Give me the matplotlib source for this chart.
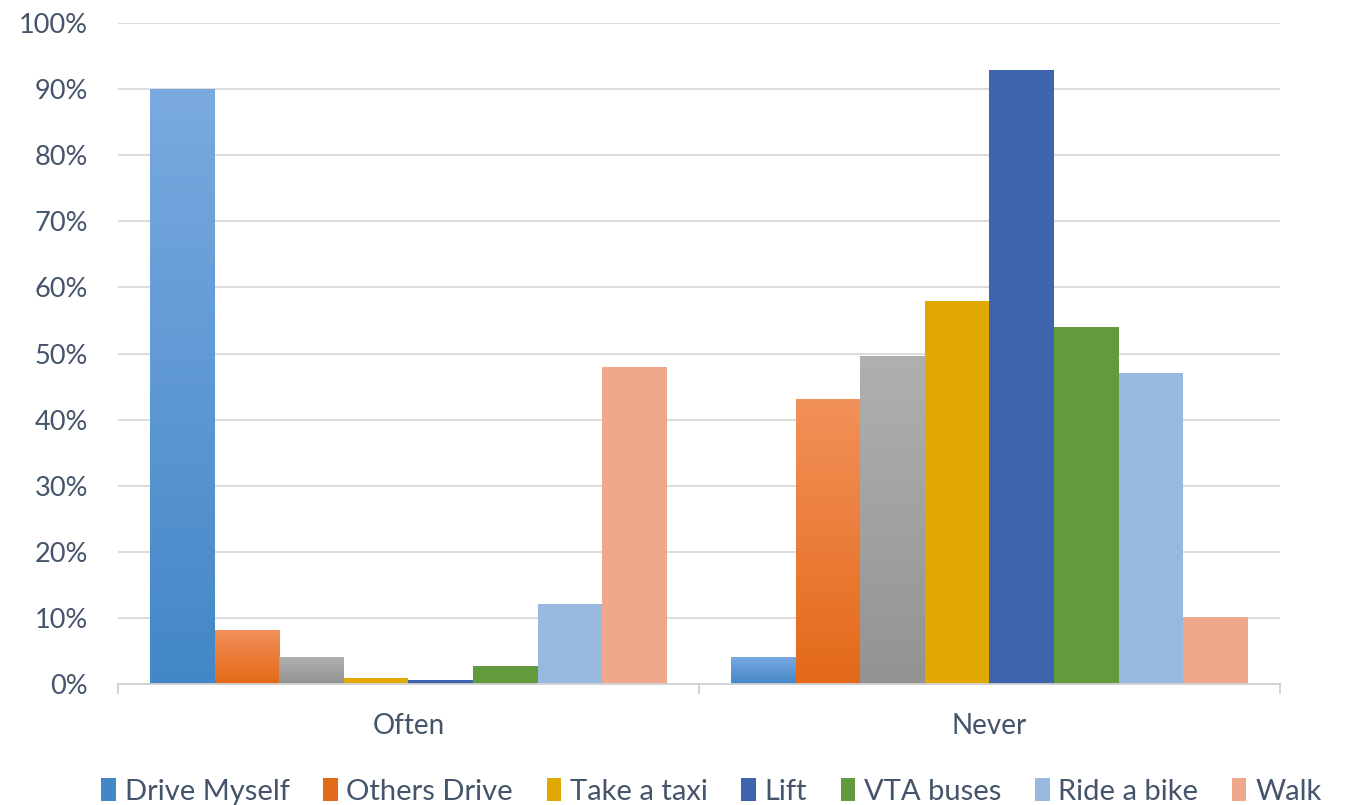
import numpy as np
import matplotlib.pyplot as plt
from matplotlib.colors import LinearSegmentedColormap
from matplotlib.patches import Patch

plt.rcParams["font.family"] = ["Lato", "DejaVu Sans"]

# Data
groups = ["Often", "Never"]
series = ["Drive Myself", "Others Drive", "Carpool", "Take a taxi", "Lift", "VTA buses", "Ride a bike", "Walk"]
drive_myself = [90.0, 4.1]
others_drive = [8.2, 43.1]
carpool = [4.1, 49.6]
take_taxi = [0.9, 57.9]
lift = [0.6, 92.9]
vta_buses = [2.8, 54.0]
ride_bike = [12.1, 47.0]
walk = [48.0, 10.1]
values = [drive_myself, others_drive, carpool, take_taxi, lift, vta_buses, ride_bike, walk]

colors = ["#5B9BD5", "#ED7D31", "#A5A5A5", "#E0A800", "#3D64AD", "#629A3E", "#98B8DE", "#F0A88A"]
# gradient (top, bottom) for the first three series
gradients = {
    0: ("#7AAAE0", "#4387C7"),
    1: ("#F2915A", "#E46918"),
    2: ("#B0B0B0", "#939393"),
}
in_legend = [True, True, False, True, True, True, True, True]
text_color = "#44546A"

fig = plt.figure(figsize=(13.5, 8.05), dpi=100)
ax = fig.add_axes([0.0874, 0.1503, 0.8607, 0.8211])

n = len(series)
w = 1.0 / (n + 1)
x = np.arange(len(groups))
handles = []
for i, (name, vals) in enumerate(zip(series, values)):
    pos = x - 0.5 + w + i * w
    bars = ax.bar(pos, vals, width=w, color=colors[i], edgecolor="none", zorder=2)
    if i in gradients:
        top, bot = gradients[i]
        cmap = LinearSegmentedColormap.from_list("g%d" % i, [bot, top])
        for b in bars:
            bx, by = b.get_x(), b.get_y()
            bw, bh = b.get_width(), b.get_height()
            grad = np.linspace(0, 1, 256).reshape(-1, 1)
            im = ax.imshow(grad, cmap=cmap, origin="lower", aspect="auto",
                           extent=[bx, bx + bw, by, by + bh], zorder=2.1)
            im.set_clip_path(b)
    if in_legend[i]:
        handles.append(Patch(facecolor=colors[i] if i not in gradients else gradients[i][1], label=name))

ax.set_xlim(-0.5, 1.5)
ax.set_ylim(0, 100)
ax.set_yticks(np.arange(0, 101, 10))
ax.set_yticklabels(["%d%%" % v for v in range(0, 101, 10)])
ax.set_xticks(x)
ax.set_xticklabels(groups)
ax.yaxis.grid(True, color="#D9D9D9", linewidth=1.3, zorder=0)
ax.set_axisbelow(True)

for s in ["top", "right", "left"]:
    ax.spines[s].set_visible(False)
ax.spines["bottom"].set_color("#D0D0D0")
ax.spines["bottom"].set_linewidth(1.3)

ax.tick_params(axis="y", length=0, labelsize=19.5, labelcolor=text_color, pad=21.5)
ax.tick_params(axis="x", length=0, labelsize=20, labelcolor=text_color, pad=21)
# category separators on the x axis
for xv in [-0.5, 0.5, 1.5]:
    ax.plot([xv, xv], [0, -1.3], color="#D0D0D0", lw=1.3, clip_on=False, zorder=3)

fig.legend(handles=handles, loc="lower center", bbox_to_anchor=(0.527, -0.032), ncol=7,
           frameon=False, fontsize=21, labelcolor=text_color, handlelength=0.5,
           handleheight=0.8, handletextpad=0.3, columnspacing=1.15)

fig.savefig("out.png", dpi=100)
